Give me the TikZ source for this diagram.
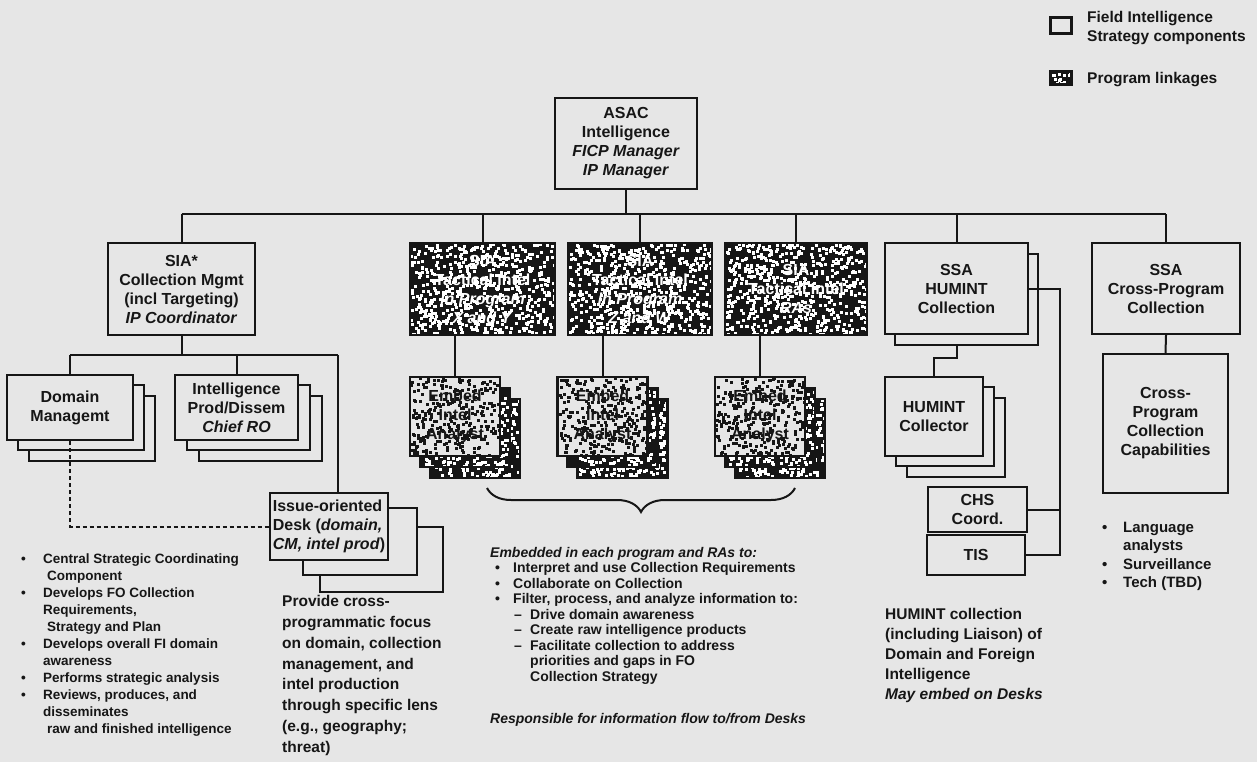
\documentclass[tikz,border=0pt]{standalone}
\usepackage{fontspec}
\setmainfont{Liberation Sans}
\usetikzlibrary{decorations.pathreplacing}
\definecolor{bg}{RGB}{230,230,230}
\definecolor{ink}{RGB}{22,22,22}
\newcommand\speckle[6]{%
  \begin{scope}
    \clip (#1-#3/2,#2-#4/2) rectangle (#1+#3/2,#2+#4/2);
    \foreach \k in {1,...,#5}{%
      \pgfmathsetmacro\spx{#1-#3/2+rnd*#3}%
      \pgfmathsetmacro\spy{#2-#4/2+rnd*#4}%
      \fill[#6] (\spx,\spy) rectangle ++(3,3);
    }
  \end{scope}}
% dark speckled box: name, cx, cy, w, h, text, dots
\newcommand\darkbox[7]{%
  \node[dkbase,minimum width=#4,minimum height=#5] (#1bg) at (#2,#3) {};
  \speckle{#2}{#3}{#4}{#5}{#7}{white}
  \node[box,fill=none,text=white,minimum width=#4,minimum height=#5] (#1) at (#2,#3) {#6};}
% light speckled box
\newcommand\lightbox[7]{%
  \node[ltbase,minimum width=#4,minimum height=#5] (#1bg) at (#2,#3) {};
  \speckle{#2}{#3}{#4}{#5}{#7}{ink}
  \node[box,fill=none,minimum width=#4,minimum height=#5] (#1) at (#2,#3) {#6};}
\begin{document}
\begin{tikzpicture}[x=1pt,y=-1pt,
  box/.style={draw=ink,line width=2.3pt,fill=bg,align=center,inner sep=0pt,text=ink,
    font=\fontsize{16}{19}\selectfont\bfseries},
  cp/.style={draw=ink,line width=2.3pt,fill=bg,inner sep=0pt},
  dkbase/.style={fill=ink,draw=none,inner sep=0pt},
  ltbase/.style={fill=bg,draw=none,inner sep=0pt},
  wire/.style={draw=ink,line width=2pt},
  txt/.style={inner sep=0pt,anchor=north west,text=ink}]
\pgfmathsetseed{7}
\useasboundingbox (0,0) rectangle (1257,762);
\fill[bg] (0,0) rectangle (1257,762);

% ---------- legend ----------
\node[cp,line width=3pt,minimum width=21,minimum height=16] (lg1) at (1061,26) {};
\node[txt,anchor=west,font=\fontsize{15.5}{19}\selectfont\bfseries] (lg1t) at (1087,28)
  {\begin{tabular}{@{}l@{}}Field Intelligence\\Strategy components\end{tabular}};
\darkbox{lg2}{1061}{78}{21}{13}{}{14}
\node[txt,anchor=west,font=\fontsize{15.5}{19}\selectfont\bfseries] (lg2t) at (1087,80) {Program linkages};

% ---------- top ----------
\node[box,minimum width=142,minimum height=91] (asac) at (626,143.5)
  {ASAC\\Intelligence\\\textit{FICP Manager}\\\textit{IP Manager}};

% ---------- row 1 ----------
\node[box,minimum width=147,minimum height=92] (sia) at (181.5,289)
  {SIA*\\Collection Mgmt\\(incl Targeting)\\\textit{IP Coordinator}};
\darkbox{t1}{482.5}{289}{145}{92}{SIA\\Tactical Intel\\\textit{in Program}\\\textit{X and Y}}{620}
\darkbox{t2}{640}{289}{144}{92}{SIA\\Tactical Intel\\\textit{in Program}\\\textit{Z and W}}{620}
\darkbox{t3}{796}{289}{142}{92}{SIA\\Tactical Intel\\\textit{RAs}}{600}
\node[cp,minimum width=143,minimum height=91] (hum2) at (966.5,299.5) {};
\node[box,minimum width=143,minimum height=91] (hum) at (956.5,288.5) {SSA\\HUMINT\\Collection};
\node[box,minimum width=148,minimum height=91] (crs) at (1166,288.5) {SSA\\Cross-Program\\Collection};

% ---------- row 2 ----------
\node[cp,minimum width=126,minimum height=65] (dm3) at (92,428.5) {};
\node[cp,minimum width=126,minimum height=65] (dm2) at (81,417.5) {};
\node[box,minimum width=126,minimum height=65] (dm) at (70,407.5) {Domain\\Managemt};

\node[cp,minimum width=123,minimum height=65] (ip3) at (260.5,428.5) {};
\node[cp,minimum width=123,minimum height=65] (ip2) at (248.5,417.5) {};
\node[box,minimum width=123,minimum height=65] (ip) at (236.5,407.5) {Intelligence\\Prod/Dissem\\\textit{Chief RO}};

\node[cp,minimum width=123,minimum height=65] (is3) at (381.5,559.5) {};
\node[cp,minimum width=114,minimum height=67] (is2) at (360,541.5) {};
\node[box,minimum width=118,minimum height=67,align=left] (issue) at (329,526.5)
  {Issue-oriented\\Desk (\textit{domain,}\\\textit{CM, intel prod})};

\darkbox{e1c}{475}{438.5}{90}{79}{}{330}
\darkbox{e1b}{465}{427.5}{90}{79}{}{330}
\lightbox{e1}{455}{416.5}{90}{79}{Embed\\Intel\\Analyst}{300}
\darkbox{e2c}{622.5}{438.5}{90}{79}{}{330}
\darkbox{e2b}{612.5}{427.5}{90}{79}{}{330}
\lightbox{e2}{602.5}{416.5}{90}{79}{Embed\\Intel\\Analyst}{300}
\darkbox{e3c}{780}{438.5}{90}{79}{}{330}
\darkbox{e3b}{770}{427.5}{90}{79}{}{330}
\lightbox{e3}{760}{416.5}{90}{79}{Embed\\Intel\\Analyst}{300}

\node[cp,minimum width=98,minimum height=79] (hc3) at (956,437.5) {};
\node[cp,minimum width=98,minimum height=79] (hc2) at (945,426.5) {};
\node[box,minimum width=98,minimum height=79] (hc) at (934,416.5) {HUMINT\\Collector};
\node[box,minimum width=99,minimum height=45] (chs) at (977.5,509.5) {CHS\\Coord.};
\node[box,minimum width=98,minimum height=40] (tis) at (976,555) {TIS};

\node[box,minimum width=125,minimum height=139] (cap) at (1165.5,423.5)
  {Cross-\\Program\\Collection\\Capabilities};

% ---------- connectors ----------
\coordinate (busL) at (181.5,214);
\coordinate (busR) at (1166,214);
\draw[wire] (busL) -- (busR);
\draw[wire] (asac.south) -- (asac.south |- busL);
\foreach \n in {sia,t1,t2,t3,hum,crs} \draw[wire] (\n.north) -- (\n.north |- busL);

\coordinate (sbL) at (70,355);
\coordinate (sbR) at (338,355);
\draw[wire] (sia.south) -- (sia.south |- sbL);
\draw[wire] (sbL) -- (sbR);
\draw[wire] (dm.north) -- (dm.north |- sbL);
\draw[wire] (ip.north) -- (ip.north |- sbL);
\draw[wire] (sbR) -- (sbR |- issue.north);
\draw[wire,dash pattern=on 4pt off 3pt] (dm.south) |- (issue.west);

\draw[wire] (e1.north) -- (e1.north |- t1.south);
\draw[wire] (e2.north) -- (e2.north |- t2.south);
\draw[wire] (e3.north) -- (e3.north |- t3.south);

\coordinate (hbot) at (956.5,345);
\draw[wire] (hbot) -- ++(0,13) -| (hc.north);
\coordinate (hv) at (1060,288.5);
\draw[wire] (hum.east) -- (hv) |- (tis.east);
\draw[wire] (chs.east) -- (chs.east -| hv);
\draw[wire] (crs.south) -- (cap.north);

\coordinate (brL) at (487,488);
\coordinate (brR) at (795,488);
\draw[wire,decorate,decoration={brace,mirror,amplitude=24pt}] (brL) -- (brR);

% ---------- texts ----------
\node[txt,font=\fontsize{13.5}{17}\selectfont\bfseries] (leftlist) at (21,551) {%
\begin{tabular}{@{}p{22pt}@{}l@{}}
• & Central Strategic Coordinating\\
  & \hspace{4pt}Component\\
• & Develops FO Collection\\
  & Requirements,\\
  & \hspace{4pt}Strategy and Plan\\
• & Develops overall FI domain\\
  & awareness\\
• & Performs strategic analysis\\
• & Reviews, produces, and\\
  & disseminates\\
  & \hspace{4pt}raw and finished intelligence
\end{tabular}};

\node[txt,font=\fontsize{15.5}{20.8}\selectfont\bfseries] (issuetxt) at (282,592) {%
\begin{tabular}{@{}l@{}}
Provide cross-\\
programmatic focus\\
on domain, collection\\
management, and\\
intel production\\
through specific lens\\
(e.g., geography;\\
threat)
\end{tabular}};

\node[txt,font=\fontsize{14}{15.5}\selectfont\bfseries] (midlist) at (490,546) {%
\begin{tabular}{@{}l@{}}
\textit{Embedded in each program and RAs to:}\\
\makebox[23pt][l]{\hspace{5pt}•}Interpret and use Collection Requirements\\
\makebox[23pt][l]{\hspace{5pt}•}Collaborate on Collection\\
\makebox[23pt][l]{\hspace{5pt}•}Filter, process, and analyze information to:\\
\makebox[40pt][l]{\hspace{24pt}–}Drive domain awareness\\
\makebox[40pt][l]{\hspace{24pt}–}Create raw intelligence products\\
\makebox[40pt][l]{\hspace{24pt}–}Facilitate collection to address\\
\hspace*{40pt}priorities and gaps in FO\\
\hspace*{40pt}Collection Strategy
\end{tabular}};
\node[txt,anchor=west,font=\fontsize{14}{15.5}\selectfont\bfseries\itshape] (resp) at (490,720)
  {Responsible for information flow to/from Desks};

\node[txt,font=\fontsize{15.5}{20}\selectfont\bfseries] (humtxt) at (885,605) {%
\begin{tabular}{@{}l@{}}
HUMINT collection\\
(including Liaison) of\\
Domain and Foreign\\
Intelligence\\
\textit{May embed on Desks}
\end{tabular}};

\node[txt,font=\fontsize{15}{18.5}\selectfont\bfseries] (rightlist) at (1102,519) {%
\begin{tabular}{@{}p{21pt}@{}l@{}}
• & Language\\
  & analysts\\
• & Surveillance\\
• & Tech (TBD)
\end{tabular}};
\end{tikzpicture}
\end{document}
